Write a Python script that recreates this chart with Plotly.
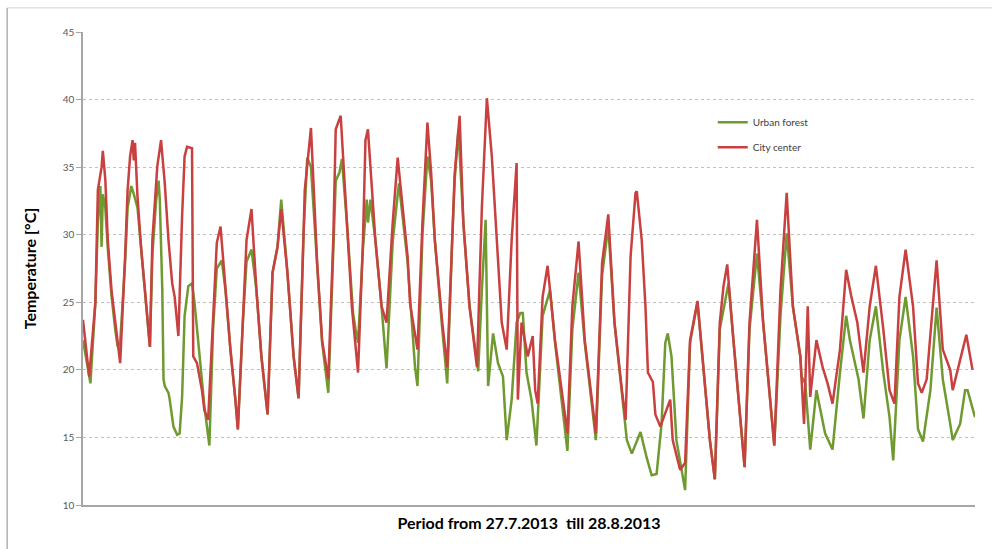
import datetime as dt
import plotly.graph_objects as go

# Hours since 27.7.2013 00:00 and temperatures (°C)
forest_hours = [0, 6, 10, 12, 14, 15, 16, 18, 20, 23, 26, 28, 30, 34, 36, 39, 41, 44, 47, 50, 52, 54,
                56, 59, 61, 62, 64, 65, 66, 69, 70, 73, 76, 78, 80, 82, 85, 88, 90, 94, 98, 102,
                105, 108, 112, 115, 119, 123, 125, 129, 132, 136, 140, 144, 149, 153, 157, 160, 165, 170, 174,
                178, 181, 184, 189, 193, 198, 202, 204, 207, 209, 213, 217, 218, 220, 222, 226, 229, 230, 232,
                236, 241, 245, 250, 255, 262, 268, 270, 274, 278, 281, 284, 290, 294, 298, 300, 303, 307,
                312, 319, 322, 325, 327, 331, 335, 339, 342, 346, 350, 353, 355, 358, 362, 366, 371, 377,
                381, 391, 395, 400, 405, 414, 419, 424, 429, 435, 439, 443, 450, 455, 459, 463, 467, 470,
                472, 475, 479, 486, 490, 496, 500, 506, 510, 514, 521, 525, 530, 534, 538, 544, 549, 555,
                558, 563, 568, 573, 579, 580, 583, 587, 592, 599, 605, 611, 616, 619, 626, 630, 635, 640,
                646, 651, 654, 659, 664, 670, 674, 678, 684, 689, 694, 700, 702, 708, 712, 714, 720]
forest_temp = [22.2, 19.0, 25.0, 31.0, 33.6, 29.1, 33.0, 32.0, 29.0, 25.5, 23.0, 21.7, 22.0, 28.0, 32.0, 33.6, 33.0, 32.0, 28.9, 25.9, 24.0, 21.7,
               28.5, 32.5, 34.0, 32.6, 25.9, 19.3, 18.8, 18.3, 17.8, 15.8, 15.2, 15.3, 18.0, 24.0, 26.2, 26.4, 25.0, 21.0, 17.3, 14.4,
               23.0, 27.5, 28.1, 25.9, 21.5, 17.8, 15.6, 23.5, 28.0, 28.9, 25.9, 21.0, 16.7, 27.2, 29.1, 32.6, 27.2, 21.0, 17.9,
               30.0, 35.7, 35.0, 27.5, 22.0, 18.3, 29.0, 34.0, 34.6, 35.6, 30.9, 25.0, 24.2, 23.0, 22.0, 29.0, 32.6, 30.9, 32.6,
               29.6, 24.7, 20.1, 29.5, 33.8, 28.0, 20.2, 18.8, 30.0, 35.8, 34.0, 29.6, 23.0, 19.0, 29.6, 34.0, 37.8, 30.9,
               24.7, 19.9, 26.0, 31.1, 18.8, 22.7, 20.5, 19.5, 14.8, 17.8, 23.5, 24.2, 24.2, 19.8, 17.8, 14.4, 24.0, 25.9,
               22.0, 14.0, 23.0, 27.2, 22.0, 14.8, 27.0, 30.6, 23.5, 18.5, 14.8, 13.8, 15.4, 13.5, 12.2, 12.3, 16.0, 22.0,
               22.7, 21.0, 14.8, 11.1, 22.0, 25.0, 21.0, 14.8, 11.9, 23.0, 26.4, 22.2, 17.3, 12.8, 23.0, 28.6, 23.5, 17.3,
               14.4, 24.0, 30.1, 24.7, 21.0, 19.5, 19.0, 14.1, 18.5, 15.3, 14.1, 19.8, 24.0, 22.2, 19.3, 16.4, 22.2, 24.7,
               19.8, 16.5, 13.3, 22.2, 25.4, 21.0, 15.6, 14.7, 18.5, 24.6, 19.3, 16.0, 14.8, 16.0, 18.5, 18.5, 16.5]

city_hours = [0, 5, 10, 12, 15, 16, 18, 20, 23, 26, 28, 30, 34, 36, 38, 40, 41, 42, 44, 47, 50, 52, 54,
              56, 60, 63, 66, 69, 72, 74, 77, 80, 82, 84, 88, 89, 92, 96, 98, 101,
              105, 108, 111, 115, 119, 123, 125, 129, 132, 136, 140, 144, 149, 153, 157, 160, 165, 170, 174,
              178, 179, 184, 189, 193, 198, 202, 204, 208, 213, 217, 222, 226, 228, 230, 236, 241, 245, 250, 254,
              262, 264, 270, 274, 278, 281, 284, 290, 294, 298, 300, 304, 307, 312, 318, 322, 324, 326, 330,
              334, 338, 342, 346, 350, 351, 354, 359, 363, 365, 367, 371, 375, 381, 391, 395, 400, 405, 414,
              419, 424, 429, 435, 438, 442, 446, 447, 451, 454, 456, 460, 462, 466, 471, 474, 476, 482, 486,
              490, 496, 500, 506, 510, 514, 517, 520, 525, 530, 534, 538, 544, 549, 555, 558, 563, 568, 573,
              579, 582, 585, 587, 592, 597, 601, 605, 611, 616, 620, 625, 630, 635, 640, 646, 651, 655, 659,
              664, 670, 674, 677, 681, 689, 694, 700, 702, 710, 713, 718]
city_temp = [23.7, 19.5, 25.0, 33.3, 35.0, 36.2, 34.1, 29.6, 25.9, 23.5, 22.0, 20.5, 28.4, 33.3, 35.8, 37.0, 35.5, 36.8, 32.8, 28.9, 25.9, 24.0, 21.7,
             29.6, 35.1, 37.0, 33.8, 29.6, 26.4, 25.4, 22.5, 31.4, 35.8, 36.5, 36.4, 21.0, 20.5, 18.5, 17.0, 16.3,
             23.5, 29.4, 30.6, 25.9, 21.5, 17.8, 15.6, 23.5, 29.6, 31.9, 25.9, 21.0, 16.7, 27.2, 29.1, 31.9, 27.2, 21.0, 17.9,
             30.0, 33.3, 37.9, 27.9, 22.2, 19.3, 29.6, 37.8, 38.8, 30.9, 24.7, 19.8, 29.6, 37.0, 37.8, 29.6, 24.7, 23.5, 30.9, 35.7,
             28.4, 24.9, 21.5, 30.9, 38.3, 34.6, 29.6, 23.5, 20.2, 29.6, 34.5, 38.8, 30.9, 24.7, 20.2, 32.1, 36.5, 40.1, 35.8,
             29.6, 23.5, 21.5, 29.6, 35.3, 17.8, 23.5, 21.0, 22.5, 18.5, 17.5, 25.4, 27.7, 22.2, 15.3, 24.7, 29.5, 22.2, 15.3,
             27.9, 31.5, 23.5, 18.5, 16.3, 28.4, 33.1, 33.2, 29.6, 24.7, 19.8, 19.1, 16.7, 15.8, 17.0, 17.8, 14.8, 12.6, 13.1,
             22.2, 25.1, 21.0, 14.8, 11.9, 23.5, 26.2, 27.8, 22.2, 17.3, 12.8, 23.5, 31.1, 23.5, 17.3, 14.4, 25.9, 33.1, 24.7,
             21.0, 16.0, 24.7, 18.0, 22.2, 20.2, 19.0, 17.5, 21.5, 27.4, 25.5, 23.5, 19.8, 24.7, 27.7, 23.0, 18.5, 17.5, 25.4,
             28.9, 24.7, 19.0, 18.3, 19.3, 28.1, 21.5, 20.0, 18.5, 21.5, 22.6, 20.0]

y_ticks = [10, 15, 20, 25, 30, 35, 40, 45]

start = dt.datetime(2013, 7, 27)
def to_time(hours):
    return [start + dt.timedelta(hours=h) for h in hours]

fig = go.Figure()
fig.add_trace(go.Scatter(x=to_time(forest_hours), y=forest_temp, mode="lines", name="Urban forest",
                         legendgroup="f", line=dict(color="#6f9a30", width=2.5)))
fig.add_trace(go.Scatter(x=to_time(city_hours), y=city_temp, mode="lines", name="City center",
                         legendgroup="c", line=dict(color="#c8403f", width=2.5)))

fig.update_layout(
    width=992, height=549,
    margin=dict(l=83, r=17, t=32, b=44),
    paper_bgcolor="white", plot_bgcolor="white",
    font=dict(family="Lato, Open Sans, sans-serif", color="#595959"),
    showlegend=True,
    legend=dict(x=0.706, y=0.84, xanchor="left", yanchor="top", bgcolor="rgba(0,0,0,0)",
                font=dict(size=10, color="#404040"), itemwidth=30, tracegroupgap=6),
    xaxis=dict(range=[start, start + dt.timedelta(hours=720)], showticklabels=False, ticks="",
               showgrid=False, zeroline=False, showline=True, linecolor="#a6a6a6", linewidth=1.5,
               automargin=False,
               title=dict(text="<b>Period from 27.7.2013  till 28.8.2013</b>",
                          font=dict(size=16, color="#000000"), standoff=12)),
    yaxis=dict(range=[10, 45], tickvals=y_ticks, ticks="outside", ticklen=5, tickcolor="#a6a6a6",
               tickfont=dict(size=10, color="#595959"), showline=True, linecolor="#a6a6a6", linewidth=1.5,
               showgrid=True, gridcolor="#bfbfbf", griddash="dot", gridwidth=1.2, zeroline=False,
               automargin=False,
               title=dict(text="<b>Temperature [°C]</b>", font=dict(size=16, color="#000000"), standoff=22)),
)

# faint outer frame (left and top edges of the original image border)
fig.add_shape(type="line", xref="paper", yref="paper", x0=-0.085, x1=1.02, y0=1.051, y1=1.051,
              line=dict(color="#d0d0d0", width=1))
fig.add_shape(type="line", xref="paper", yref="paper", x0=-0.085, x1=-0.085, y0=1.051, y1=-0.1,
              line=dict(color="#b0b0b0", width=1.5))

fig.write_html("out.html", config={"displayModeBar": False},
               post_script="document.body.style.margin='0px';")
